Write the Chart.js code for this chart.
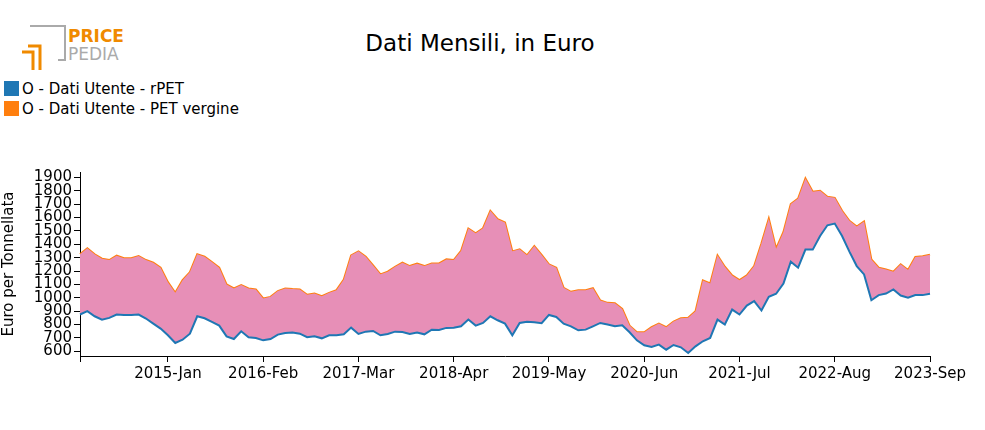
<!DOCTYPE html>
<html>
<head>
<meta charset="utf-8">
<script src="https://cdn.jsdelivr.net/npm/chart.js@4.4.0/dist/chart.umd.min.js"></script>
<style>
  body { margin: 0; background: #fff; font-family: "DejaVu Sans", sans-serif; }
  #wrap { position: relative; width: 985px; height: 430px; }
  #title { position: absolute; top: 30px; left: 0; width: 960px; text-align: center; font-size: 23px; color: #000; }
  #legend { position: absolute; left: 4px; top: 79px; font-size: 15px; color: #000; line-height: 20px; }
  #legend span.sw { display: inline-block; width: 15px; height: 15px; vertical-align: -2px; margin-right: 3px; }
  #logo { position: absolute; left: 20px; top: 24px; }
  canvas { position: absolute; left: 0; top: 0; }
</style>
</head>
<body>
<div id="wrap">
  <div id="logo">
    <svg width="110" height="50">
      <path d="M10 2 H45 V36 H38" fill="none" stroke="#aaa" stroke-width="2"/>
      <path d="M8 22 H20 V46 M2 28 H13 V46" fill="none" stroke="#f08a00" stroke-width="3"/>
      <text x="48" y="18" font-size="17" font-weight="bold" fill="#f08a00" font-family="DejaVu Sans">PRICE</text>
      <text x="48" y="36" font-size="17" fill="#aaa" font-family="DejaVu Sans">PEDIA</text>
    </svg>
  </div>
  <div id="title">Dati Mensili, in Euro</div>
  <div id="legend">
    <div><span class="sw" style="background:#1f77b4"></span>O - Dati Utente - rPET</div>
    <div><span class="sw" style="background:#ff7f0e"></span>O - Dati Utente - PET vergine</div>
  </div>
  <canvas id="myChart" width="985" height="430"></canvas>
</div>
<script>
// mesi da 2014-Jan a 2023-Sep
const mesi = ['Jan','Feb','Mar','Apr','May','Jun','Jul','Aug','Sep','Oct','Nov','Dec'];
const etichette = [];
for (let a = 2014; a <= 2023; a++) {
  for (let m = 0; m < 12; m++) {
    if (a === 2023 && m > 8) break;
    etichette.push(a + '-' + mesi[m]);
  }
}
const tickMostrati = ['2015-Jan','2016-Feb','2017-Mar','2018-Apr','2019-May','2020-Jun','2021-Jul','2022-Aug','2023-Sep'];
const yTicks = [600,700,800,900,1000,1100,1200,1300,1400,1500,1600,1700,1800,1900];

const rPET = [875,900,862,837,850,875,872,872,875,845,807,770,720,662,687,732,862,847,820,792,
  712,692,750,705,700,682,692,725,737,740,732,705,712,697,720,720,727,777,730,747,
  752,720,730,747,745,730,740,727,762,760,775,777,787,837,792,812,862,832,807,720,
  812,820,817,810,872,857,807,787,757,762,787,812,800,787,795,742,682,645,632,650,
  612,647,630,587,637,675,700,837,800,912,875,942,975,905,1007,1030,1107,1270,1225,1360,
  1360,1462,1542,1555,1462,1345,1237,1175,982,1020,1032,1062,1017,1000,1020,1020,1030];

const petVergine = [1325,1370,1325,1292,1282,1315,1295,1295,1312,1282,1262,1225,1117,1037,1132,1192,1325,1307,1267,1225,
  1100,1070,1095,1070,1062,995,1007,1050,1070,1065,1062,1022,1032,1012,1037,1057,1137,1317,1347,1307,
  1242,1175,1195,1232,1262,1237,1255,1237,1257,1257,1287,1282,1350,1517,1482,1520,1650,1587,1562,1347,
  1362,1317,1387,1320,1250,1225,1075,1045,1057,1057,1072,980,962,960,917,792,742,742,780,807,
  780,822,847,850,900,1130,1107,1317,1232,1167,1132,1167,1237,1407,1592,1367,1492,1700,1742,1892,
  1792,1800,1755,1747,1650,1575,1532,1570,1287,1225,1212,1195,1250,1207,1305,1310,1322];

const ctx = document.getElementById('myChart');
new Chart(ctx, {
  type: 'line',
  data: {
    labels: etichette,
    datasets: [{
      label: 'O - Dati Utente - rPET',
      data: rPET,
      borderColor: '#1f77b4',
      backgroundColor: 'rgba(231,143,183,1)',
      borderWidth: 2,
      pointRadius: 0,
      tension: 0,
      fill: '+1'
    }, {
      label: 'O - Dati Utente - PET vergine',
      data: petVergine,
      borderColor: '#ff7f0e',
      borderWidth: 2,
      pointRadius: 0,
      tension: 0,
      fill: false
    }]
  },
  options: {
    responsive: false,
    animation: false,
    layout: { padding: { top: 172, right: 55, left: 0, bottom: 0 } },
    plugins: { legend: { display: false }, tooltip: { enabled: false } },
    scales: {
      x: {
        offset: false,
        border: { color: '#000', width: 1 },
        grid: { drawOnChartArea: false, tickLength: 6, color: '#000' },
        afterBuildTicks: (scale) => {
          scale.ticks = scale.ticks.filter(t => t.value === 0 || tickMostrati.includes(etichette[t.value]));
        },
        afterFit: (scale) => { scale.height = 74; },
        ticks: {
          autoSkip: false,
          maxRotation: 0,
          color: '#000',
          font: { size: 15, family: 'DejaVu Sans' },
          callback: function (v) { return v === 0 ? '' : etichette[v]; }
        }
      },
      y: {
        min: 565,
        max: 1940,
        border: { color: '#000', width: 1 },
        grid: { drawOnChartArea: false, tickLength: 6, color: '#000' },
        afterBuildTicks: (scale) => { scale.ticks = yTicks.map(v => ({ value: v })); },
        afterFit: (scale) => { scale.width = 80; },
        title: { display: true, text: 'Euro per Tonnellata', color: '#000', font: { size: 15, family: 'DejaVu Sans' }, padding: 0 },
        ticks: {
          autoSkip: false,
          color: '#000',
          font: { size: 15, family: 'DejaVu Sans' },
          padding: 2,
          callback: (v) => String(v)
        }
      }
    }
  }
});
</script>
</body>
</html>
